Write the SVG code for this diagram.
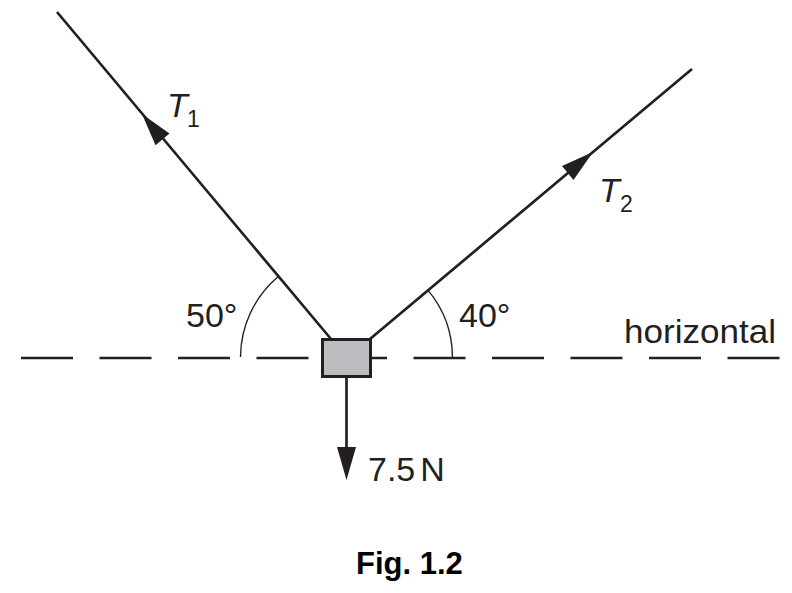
<svg xmlns="http://www.w3.org/2000/svg" width="792" height="593" viewBox="0 0 792 593">
<style>
.ln{stroke:#231f20;stroke-width:2.7;fill:none}
.arc{stroke:#231f20;stroke-width:1.4;fill:none}
.ah{fill:#231f20;stroke:none}
.t{font-family:"Liberation Sans",Arial,sans-serif;font-size:34px;fill:#231f20}
.it{font-style:italic}
.sub{font-size:23px}
.cap{font-family:"Liberation Sans",Arial,sans-serif;font-size:31px;font-weight:bold;fill:#000}
</style>
<rect width="792" height="593" fill="#fff"/>
<g id="horizontal-line">
<line class="ln" x1="21" y1="358" x2="781" y2="358" stroke-dasharray="52 26.5"/>
<text class="t" x="624" y="342.5" textLength="152" lengthAdjust="spacingAndGlyphs">horizontal</text>
</g>
<g id="angles">
<path class="arc" d="M278,276.8 A106,106 0 0 0 240.5,357"/>
<path class="arc" d="M427.7,289.9 A106,106 0 0 1 452.5,358"/>
<text class="t" x="186" y="327">50°</text>
<text class="t" x="459" y="327">40°</text>
</g>
<g id="connectors">
<line class="ln" x1="57" y1="12" x2="331" y2="339"/>
<polygon class="ah" points="142,114 169.5,133.5 155.5,145.3"/>
<line class="ln" x1="370" y1="339" x2="692" y2="69"/>
<polygon class="ah" points="593,152 573.5,180 562,166"/>
<line class="ln" x1="346.5" y1="378" x2="346.5" y2="450"/>
<polygon class="ah" points="337,447 356,447 346.5,480"/>
</g>
<g id="block">
<rect x="322.5" y="339.5" width="48" height="37" fill="#bcbdc0" stroke="#231f20" stroke-width="3"/>
</g>
<g id="labels">
<text class="t" x="167" y="117"><tspan class="it">T</tspan><tspan class="sub" x="187" y="127">1</tspan></text>
<text class="t" x="599" y="201.5"><tspan class="it">T</tspan><tspan class="sub" x="620" y="212">2</tspan></text>
<text class="t" x="368" y="480.5">7.5<tspan dx="5">N</tspan></text>
<text class="cap" x="356" y="573.5">Fig. 1.2</text>
</g>
</svg>
